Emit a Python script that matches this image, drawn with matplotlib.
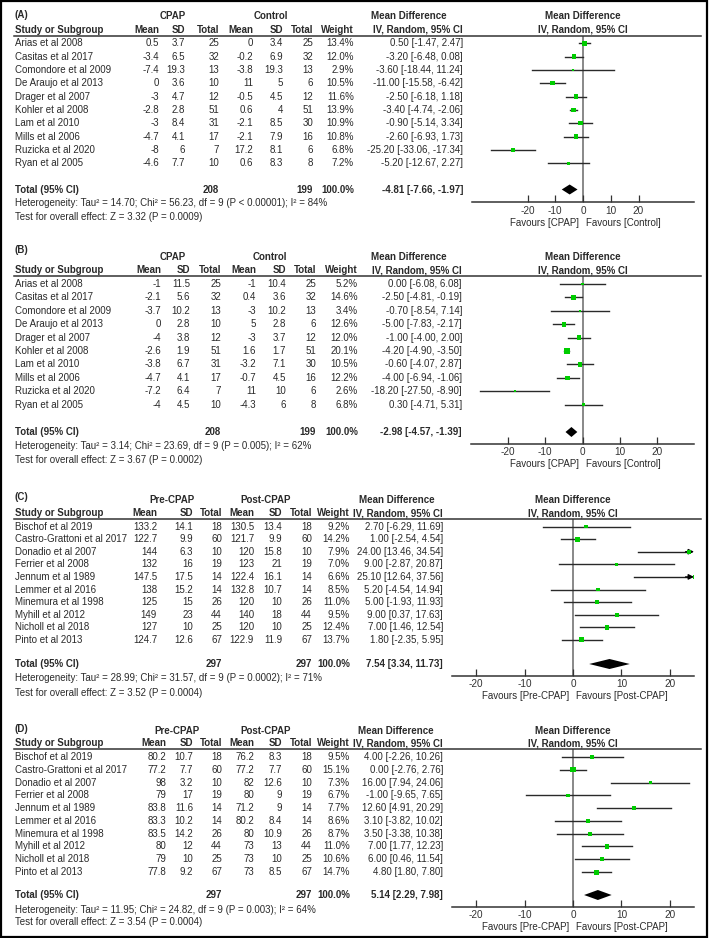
import matplotlib
matplotlib.use("Agg")
import matplotlib.pyplot as plt
from matplotlib.patches import Rectangle
from matplotlib.lines import Line2D

plt.rcParams['font.family'] = ['Liberation Sans', 'DejaVu Sans']
plt.rcParams['axes.unicode_minus'] = False

# ---------------- DATA ----------------
studies_AB = ["Arias et al 2008", "Casitas et al 2017", "Comondore et al 2009",
              "De Araujo et al 2013", "Drager et al 2007", "Kohler et al 2008",
              "Lam et al 2010", "Mills et al 2006", "Ruzicka et al 2020", "Ryan et al 2005"]
n1_AB = [25, 32, 13, 10, 12, 51, 31, 17, 7, 10]
n2_AB = [25, 32, 13, 6, 12, 51, 30, 16, 6, 8]

m1_A = [0.5, -3.4, -7.4, 0, -3, -2.8, -3, -4.7, -8, -4.6]
sd1_A = [3.7, 6.5, 19.3, 3.6, 4.7, 2.8, 8.4, 4.1, 6, 7.7]
m2_A = [0, -0.2, -3.8, 11, -0.5, 0.6, -2.1, -2.1, 17.2, 0.6]
sd2_A = [3.4, 6.9, 19.3, 5, 4.5, 4, 8.5, 7.9, 8.1, 8.3]
w_A = [13.4, 12.0, 2.9, 10.5, 11.6, 13.9, 10.9, 10.8, 6.8, 7.2]
md_A = [0.50, -3.20, -3.60, -11.00, -2.50, -3.40, -0.90, -2.60, -25.20, -5.20]
lo_A = [-1.47, -6.48, -18.44, -15.58, -6.18, -4.74, -5.14, -6.93, -33.06, -12.67]
hi_A = [2.47, 0.08, 11.24, -6.42, 1.18, -2.06, 3.34, 1.73, -17.34, 2.27]
tot_A = [-4.81, -7.66, -1.97]
totw_A = 100.0
het_A = "Heterogeneity: Tau\u00b2 = 14.70; Chi\u00b2 = 56.23, df = 9 (P < 0.00001); I\u00b2 = 84%"
test_A = "Test for overall effect: Z = 3.32 (P = 0.0009)"

m1_B = [-1, -2.1, -3.7, 0, -4, -2.6, -3.8, -4.7, -7.2, -4]
sd1_B = [11.5, 5.6, 10.2, 2.8, 3.8, 1.9, 6.7, 4.1, 6.4, 4.5]
m2_B = [-1, 0.4, -3, 5, -3, 1.6, -3.2, -0.7, 11, -4.3]
sd2_B = [10.4, 3.6, 10.2, 2.8, 3.7, 1.7, 7.1, 4.5, 10, 6]
w_B = [5.2, 14.6, 3.4, 12.6, 12.0, 20.1, 10.5, 12.2, 2.6, 6.8]
md_B = [0.00, -2.50, -0.70, -5.00, -1.00, -4.20, -0.60, -4.00, -18.20, 0.30]
lo_B = [-6.08, -4.81, -8.54, -7.83, -4.00, -4.90, -4.07, -6.94, -27.50, -4.71]
hi_B = [6.08, -0.19, 7.14, -2.17, 2.00, -3.50, 2.87, -1.06, -8.90, 5.31]
tot_B = [-2.98, -4.57, -1.39]
totw_B = 100.0
het_B = "Heterogeneity: Tau\u00b2 = 3.14; Chi\u00b2 = 23.69, df = 9 (P = 0.005); I\u00b2 = 62%"
test_B = "Test for overall effect: Z = 3.67 (P = 0.0002)"

studies_CD = ["Bischof et al 2019", "Castro-Grattoni et al 2017", "Donadio et al 2007",
              "Ferrier et al 2008", "Jennum et al 1989", "Lemmer et al 2016",
              "Minemura et al 1998", "Myhill et al 2012", "Nicholl et al 2018", "Pinto et al 2013"]
n_CD = [18, 60, 10, 19, 14, 14, 26, 44, 25, 67]

m1_C = [133.2, 122.7, 144, 132, 147.5, 138, 125, 149, 127, 124.7]
sd1_C = [14.1, 9.9, 6.3, 16, 17.5, 15.2, 15, 23, 10, 12.6]
m2_C = [130.5, 121.7, 120, 123, 122.4, 132.8, 120, 140, 120, 122.9]
sd2_C = [13.4, 9.9, 15.8, 21, 16.1, 10.7, 10, 18, 10, 11.9]
w_C = [9.2, 14.2, 7.9, 7.0, 6.6, 8.5, 11.0, 9.5, 12.4, 13.7]
md_C = [2.70, 1.00, 24.00, 9.00, 25.10, 5.20, 5.00, 9.00, 7.00, 1.80]
lo_C = [-6.29, -2.54, 13.46, -2.87, 12.64, -4.54, -1.93, 0.37, 1.46, -2.35]
hi_C = [11.69, 4.54, 34.54, 20.87, 37.56, 14.94, 11.93, 17.63, 12.54, 5.95]
tot_C = [7.54, 3.34, 11.73]
totw_C = 100.0
het_C = "Heterogeneity: Tau\u00b2 = 28.99; Chi\u00b2 = 31.57, df = 9 (P = 0.0002); I\u00b2 = 71%"
test_C = "Test for overall effect: Z = 3.52 (P = 0.0004)"

m1_D = [80.2, 77.2, 98, 79, 83.8, 83.3, 83.5, 80, 79, 77.8]
sd1_D = [10.7, 7.7, 3.2, 17, 11.6, 10.2, 14.2, 12, 10, 9.2]
m2_D = [76.2, 77.2, 82, 80, 71.2, 80.2, 80, 73, 73, 73]
sd2_D = [8.3, 7.7, 12.6, 9, 9, 8.4, 10.9, 13, 10, 8.5]
w_D = [9.5, 15.1, 7.3, 6.7, 7.7, 8.6, 8.7, 11.0, 10.6, 14.7]
md_D = [4.00, 0.00, 16.00, -1.00, 12.60, 3.10, 3.50, 7.00, 6.00, 4.80]
lo_D = [-2.26, -2.76, 7.94, -9.65, 4.91, -3.82, -3.38, 1.77, 0.46, 1.80]
hi_D = [10.26, 2.76, 24.06, 7.65, 20.29, 10.02, 10.38, 12.23, 11.54, 7.80]
tot_D = [5.14, 2.29, 7.98]
totw_D = 100.0
het_D = "Heterogeneity: Tau\u00b2 = 11.95; Chi\u00b2 = 24.82, df = 9 (P = 0.003); I\u00b2 = 64%"
test_D = "Test for overall effect: Z = 3.54 (P = 0.0004)"

xticks = [-20, -10, 0, 10, 20]

# ---------------- FIGURE ----------------
W, H = 709, 938
fig = plt.figure(figsize=(W / 100, H / 100), dpi=100)
FS = 7.0
TXT = '#2a2a2a'


def fx(x):
    return x / W


def fy(y):
    return 1 - y / H


def t(x, y, s, ha='left', bold=False, color=TXT):
    fig.text(fx(x), fy(y), s, ha=ha, va='center', fontsize=FS,
             fontweight='bold' if bold else 'normal', color=color)


def panel(label, g1, g2, fav, studies, m1, sd1, n1, m2, sd2, n2, w, md, lo, hi, tot,
          totw, het, test, L):
    cols = L['cols']
    # headers
    t(15, L['lab'], label, bold=True)
    t(L['g1c'], L['h1'], g1, ha='center', bold=True)
    t(L['g2c'], L['h1'], g2, ha='center', bold=True)
    t(L['mdc'], L['h1'], "Mean Difference", ha='center', bold=True)
    t(L['zero'], L['h1'], "Mean Difference", ha='center', bold=True)
    t(L['zero'], L['h2'], "IV, Random, 95% CI", ha='center', bold=True)
    t(15, L['h2'], "Study or Subgroup", bold=True)
    for x, s in zip(cols, ["Mean", "SD", "Total", "Mean", "SD", "Total", "Weight",
                           "IV, Random, 95% CI"]):
        t(x, L['h2'], s, ha='right', bold=True)
    fig.add_artist(Line2D([fx(14), fx(701)], [fy(L['hline'])] * 2, color='#333333', lw=1.1))
    # rows
    ys = [L['row0'] + i * L['step'] for i in range(len(studies))]
    for i, y in enumerate(ys):
        t(15, y, studies[i])
        vals = ["{:g}".format(m1[i]), "{:g}".format(sd1[i]), str(n1[i]),
                "{:g}".format(m2[i]), "{:g}".format(sd2[i]), str(n2[i]),
                "{:.1f}%".format(w[i]),
                "{:.2f} [{:.2f}, {:.2f}]".format(md[i], lo[i], hi[i])]
        for x, s in zip(cols, vals):
            t(x, y, s, ha='right')
    # total
    yt = L['tot']
    t(15, yt, "Total (95% CI)", bold=True)
    t(cols[2], yt, str(sum(n1)), ha='right', bold=True)
    t(cols[5], yt, str(sum(n2)), ha='right', bold=True)
    t(cols[6], yt, "{:.1f}%".format(totw), ha='right', bold=True)
    t(cols[7], yt, "{:.2f} [{:.2f}, {:.2f}]".format(*tot), ha='right', bold=True)
    t(15, L['het'], het)
    t(15, L['test'], test)

    # forest axes
    xmin, xmax = L['xlim']
    x0, x1 = L['px']
    ax = fig.add_axes([fx(x0), fy(L['axis']), (x1 - x0) / W,
                       (L['axis'] - L['hline']) / H])
    ax.set_xlim(xmin, xmax)
    ax.set_ylim(L['axis'], L['hline'])
    ax.patch.set_visible(False)
    for s in ['top', 'left', 'right']:
        ax.spines[s].set_visible(False)
    ax.spines['bottom'].set_color('#333333')
    ax.spines['bottom'].set_linewidth(1.1)
    ax.set_yticks([])
    ax.set_xticks(xticks)
    ax.set_xticklabels([str(v) for v in xticks])
    ax.tick_params(axis='x', direction='in', length=5, width=0.9, colors='#333333',
                   labelsize=FS + 0.2, pad=2.5)
    ax.axvline(0, color='#7f7f7f', lw=1.3, zorder=1)
    span = xmax - xmin
    for i, y in enumerate(ys):
        a, b = lo[i], hi[i]
        if b > xmax:
            ax.plot([max(a, xmin), xmax - span * 0.02], [y, y], color='#222222',
                    lw=1.0, zorder=2)
            ax.annotate('', xy=(xmax, y), xytext=(xmax - span * 0.035, y),
                        arrowprops=dict(arrowstyle='-|>', color='black', lw=0.9,
                                        mutation_scale=8, shrinkA=0, shrinkB=0),
                        annotation_clip=False)
        elif a < xmin:
            ax.plot([xmin + span * 0.02, min(b, xmax)], [y, y], color='#222222',
                    lw=1.0, zorder=2)
            ax.annotate('', xy=(xmin, y), xytext=(xmin + span * 0.035, y),
                        arrowprops=dict(arrowstyle='-|>', color='black', lw=0.9,
                                        mutation_scale=8, shrinkA=0, shrinkB=0),
                        annotation_clip=False)
        else:
            ax.plot([a, b], [y, y], color='#2a2a2a', lw=1.0, zorder=2)
    sizes = [(1.3 * (wi ** 0.5) * 0.72) ** 2 for wi in w]
    ax.scatter(md, ys, s=sizes, marker='s', color='#00cc00', edgecolors='none',
               zorder=3, clip_on=True)
    est, dlo, dhi = tot
    ax.fill([dlo, est, dhi, est], [yt, yt - 5, yt, yt + 5], color='black', zorder=4,
            lw=0)
    t(L['zero'] - 4, L['fav'], fav[0], ha='right')
    t(L['zero'] + 3, L['fav'], fav[1], ha='left')


LA = dict(lab=15, h1=16, h2=30, hline=36, row0=43.3, step=13.33, tot=189.5, het=203.5,
          test=217, axis=202.3, fav=223, xlim=(-40, 40), px=(472, 694), zero=583,
          cols=[159, 185, 219, 253, 283, 313, 354, 463], g1c=173, g2c=271, mdc=409)
LB = dict(lab=250, h1=257, h2=270, hline=276, row0=284, step=13.4, tot=432, het=446,
          test=460, axis=444, fav=464, xlim=(-30, 30), px=(471, 694), zero=582.5,
          cols=[161, 190, 221, 256, 286, 316, 358, 462], g1c=173, g2c=270, mdc=409)
LC = dict(lab=497, h1=500, h2=513, hline=518.5, row0=526.5, step=12.6, tot=664, het=678,
          test=693, axis=676, fav=696, xlim=(-25, 25), px=(452, 694), zero=573,
          cols=[157, 193, 222, 254, 282, 312, 350, 443], g1c=172, g2c=266, mdc=397)
LD = dict(lab=729, h1=731, h2=743, hline=749, row0=757, step=12.78, tot=895, het=910,
          test=922, axis=907, fav=927, xlim=(-25, 25), px=(452, 694), zero=573,
          cols=[166, 193, 222, 254, 282, 312, 350, 443], g1c=177, g2c=266, mdc=396)

panel("(A)", "CPAP", "Control", ("Favours [CPAP]", "Favours [Control]"), studies_AB,
      m1_A, sd1_A, n1_AB, m2_A, sd2_A, n2_AB, w_A, md_A, lo_A, hi_A, tot_A, totw_A,
      het_A, test_A, LA)
panel("(B)", "CPAP", "Control", ("Favours [CPAP]", "Favours [Control]"), studies_AB,
      m1_B, sd1_B, n1_AB, m2_B, sd2_B, n2_AB, w_B, md_B, lo_B, hi_B, tot_B, totw_B,
      het_B, test_B, LB)
panel("(C)", "Pre-CPAP", "Post-CPAP", ("Favours [Pre-CPAP]", "Favours [Post-CPAP]"),
      studies_CD, m1_C, sd1_C, n_CD, m2_C, sd2_C, n_CD, w_C, md_C, lo_C, hi_C, tot_C,
      totw_C, het_C, test_C, LC)
panel("(D)", "Pre-CPAP", "Post-CPAP", ("Favours [Pre-CPAP]", "Favours [Post-CPAP]"),
      studies_CD, m1_D, sd1_D, n_CD, m2_D, sd2_D, n_CD, w_D, md_D, lo_D, hi_D, tot_D,
      totw_D, het_D, test_D, LD)

fig.add_artist(Rectangle((fx(1), fy(937)), (706) / W, 936 / H, transform=fig.transFigure,
                         fill=False, edgecolor='black', lw=1.6))

fig.savefig("out.png", dpi=100)
